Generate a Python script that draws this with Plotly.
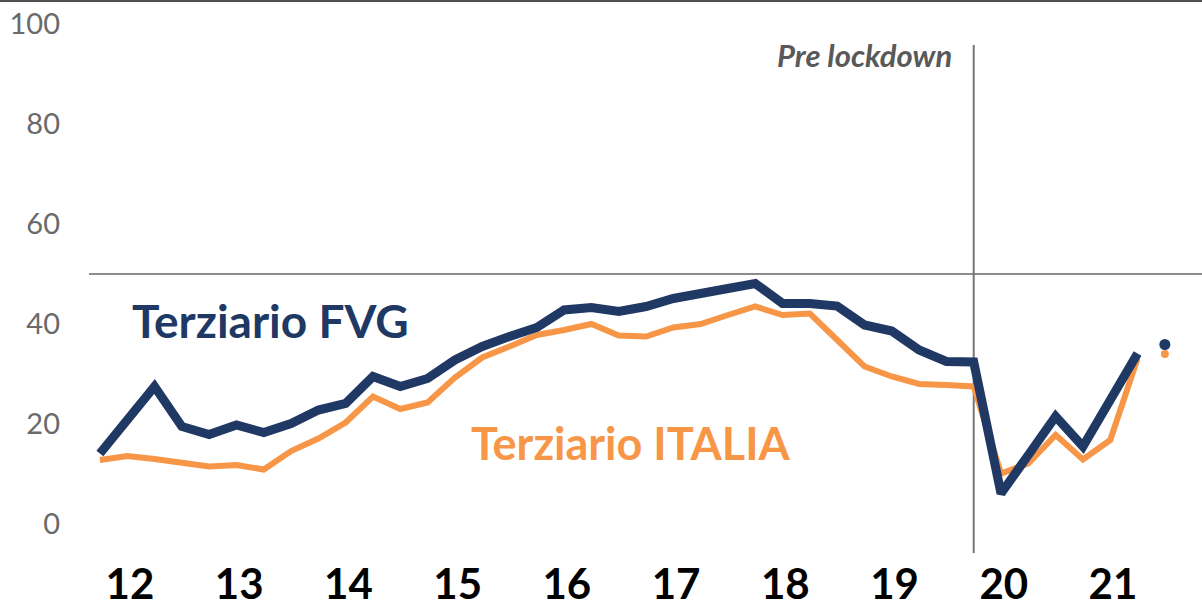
import plotly.graph_objects as go

# clima di fiducia terziario, dati trimestrali 2012-2021 (indice trimestre da 0)
fvg = [14.1, 20.8, 27.5, 19.5, 17.9, 19.8, 18.3, 20.1, 22.8, 24.1,
       29.5, 27.5, 29.1, 32.8, 35.5, 37.5, 39.3, 42.8, 43.3, 42.5,
       43.5, 45.1, 46.3, 47.1, 48.1, 44.1, 44.1, 43.6, 39.8, 38.6,
       34.8, 32.5, 32.4, 6.1, 13.8, 21.5, 15.5, 24.8, 34.1]
italia = [12.8, 13.6, 13.0, 12.1, 11.5, 11.8, 10.9, 14.6, 17.1, 20.3,
          25.5, 23.0, 24.3, 29.3, 33.3, 35.5, 37.8, 38.8, 40.0, 37.7,
          37.5, 39.3, 40.0, 41.8, 43.5, 41.8, 42.1, 36.8, 31.5, 29.5,
          28.0, 27.8, 27.5, 10.1, 12.1, 17.8, 12.9, 16.8, 33.1]
# ultimo trimestre (previsione), punto isolato
fvg_prev = [35.9]
italia_prev = [34.0]
anni = ["12", "13", "14", "15", "16", "17", "18", "19", "20", "21"]

NAVY = "#203864"
ORANGE = "#F79646"
GREY = "#767676"
FONT = "Lato"

q = list(range(len(fvg)))
q_prev = [len(fvg)]
lockdown_q = 32

fig = go.Figure()
fig.add_trace(go.Scatter(x=q, y=italia, mode="lines",
                         line=dict(color=ORANGE, width=6), hoverinfo="skip"))
fig.add_trace(go.Scatter(x=q, y=fvg, mode="lines",
                         line=dict(color=NAVY, width=9), hoverinfo="skip"))
fig.add_trace(go.Scatter(x=q_prev, y=fvg_prev, mode="markers",
                         marker=dict(color=NAVY, size=11), hoverinfo="skip"))
fig.add_trace(go.Scatter(x=q_prev, y=italia_prev, mode="markers",
                         marker=dict(color=ORANGE, size=8), hoverinfo="skip"))

# linea 50, linea pre lockdown, filo in alto
fig.add_shape(type="line", xref="paper", x0=0, x1=1, yref="y", y0=50, y1=50,
              line=dict(color="#8c8c8c", width=2), layer="below")
fig.add_shape(type="line", xref="x", x0=lockdown_q, x1=lockdown_q, yref="paper", y0=-0.0075, y1=0.942,
              line=dict(color=GREY, width=2), layer="below")
fig.add_shape(type="line", xref="paper", x0=-0.08, x1=1, yref="paper", y0=1.0243, y1=1.0243,
              line=dict(color="#505050", width=2))

fig.add_annotation(x=lockdown_q, y=93.8, xshift=-20, xanchor="right", showarrow=False,
                   text="<b><i>Pre lockdown</i></b>",
                   font=dict(family=FONT, size=31, color="#595959"))
fig.add_annotation(x=1.1, y=40.8, xanchor="left", showarrow=False,
                   text="<b>Terziario FVG</b>",
                   font=dict(family=FONT, size=46, color=NAVY))
fig.add_annotation(x=13.5, y=16.2, xanchor="left", showarrow=False,
                   text="<b>Terziario ITALIA</b>",
                   font=dict(family=FONT, size=45, color=ORANGE))

fig.update_xaxes(range=[-0.4, 40.36], tickmode="array",
                 tickvals=[4 * k + 1.1 for k in range(len(anni))], ticktext=anni,
                 tickfont=dict(family=FONT, size=42, color="black", weight="bold"),
                 showgrid=False, zeroline=False, showline=False, ticks="",
                 ticklabelstandoff=7, automargin=False)
fig.update_yaxes(range=[-5, 102], tickmode="array", tickvals=[0, 20, 40, 60, 80, 100],
                 tickfont=dict(family=FONT, size=29, color="#6a6a6a"),
                 showgrid=False, zeroline=False, showline=False, ticks="",
                 ticklabelstandoff=28, automargin=False)
fig.update_layout(width=1202, height=607, showlegend=False,
                  margin=dict(l=89, r=0, t=14, b=58),
                  plot_bgcolor="white", paper_bgcolor="white")

fig.write_html("out.html", config={"displayModeBar": False},
               post_script="document.body.style.margin='0';document.body.style.overflow='hidden';")
